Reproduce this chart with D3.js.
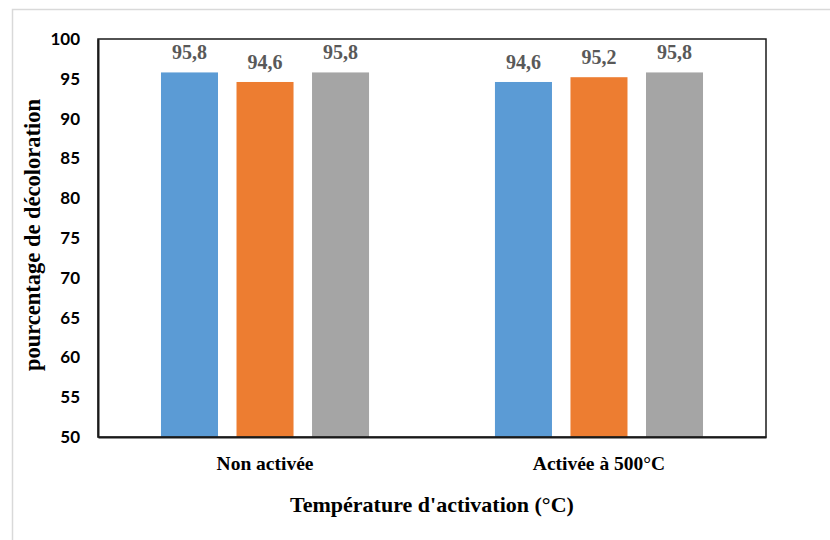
<!DOCTYPE html>
<html>
<head>
  <meta charset="utf-8">
  <title>Décoloration</title>
  <script src="https://d3js.org/d3.v7.min.js"></script>
  <style>
    body { margin: 0; background: #fff; }
  </style>
</head>
<body>
  <div id="chart"></div>

  <script>
    // Data
    const categories = ['Non activée', 'Activée à 500°C'];
    const series = ['s1', 's2', 's3'];
    const values = [
      [95.8, 94.6, 95.8],
      [94.6, 95.2, 95.8]
    ];
    const labels = [
      ['95,8', '94,6', '95,8'],
      ['94,6', '95,2', '95,8']
    ];
    const yTicks = [50, 55, 60, 65, 70, 75, 80, 85, 90, 95, 100];
    const colors = ['#5b9bd5', '#ed7d31', '#a5a5a5'];

    const width = 830;
    const height = 540;
    const margin = { top: 39, right: 64, bottom: 103, left: 98 };

    const svg = d3.select('#chart')
      .append('svg')
      .attr('width', width)
      .attr('height', height);

    // light outer frame
    svg.append('rect')
      .attr('x', 12.5).attr('y', 9.5)
      .attr('width', 830).attr('height', 540)
      .attr('fill', 'none')
      .attr('stroke', '#d9d9d9')
      .attr('stroke-width', 1.5);

    // Scales
    const x0 = d3.scaleBand()
      .domain(categories)
      .range([margin.left, width - margin.right])
      .paddingInner(0.377)
      .paddingOuter(0.1886);

    const x1 = d3.scaleBand()
      .domain(series)
      .range([0, x0.bandwidth()])
      .paddingInner(0.245)
      .paddingOuter(0);

    const y = d3.scaleLinear()
      .domain([50, 100])
      .range([height - margin.bottom, margin.top]);

    // Bars
    const groups = svg.selectAll('.group')
      .data(categories)
      .enter().append('g')
      .attr('class', 'group')
      .attr('transform', d => `translate(${x0(d)},0)`);

    groups.each(function(cat, ci) {
      const g = d3.select(this);
      g.selectAll('rect')
        .data(values[ci])
        .enter().append('rect')
        .attr('x', (d, i) => x1(series[i]))
        .attr('y', d => y(d))
        .attr('width', x1.bandwidth())
        .attr('height', d => y(50) - y(d))
        .attr('fill', (d, i) => colors[i]);

      g.selectAll('text.val')
        .data(values[ci])
        .enter().append('text')
        .attr('class', 'val')
        .attr('x', (d, i) => x1(series[i]) + x1.bandwidth() / 2)
        .attr('y', d => y(d) - 13)
        .attr('text-anchor', 'middle')
        .attr('font-family', '"Liberation Serif", "Times New Roman", serif')
        .attr('font-weight', 'bold')
        .attr('font-size', 20)
        .attr('fill', '#595959')
        .text((d, i) => labels[ci][i]);
    });

    // plot frame
    svg.append('rect')
      .attr('x', margin.left)
      .attr('y', margin.top)
      .attr('width', width - margin.left - margin.right)
      .attr('height', height - margin.top - margin.bottom)
      .attr('fill', 'none')
      .attr('stroke', '#1a1a1a')
      .attr('stroke-width', 1.5);

    // Y axis
    const yAxis = svg.append('g')
      .attr('transform', `translate(${margin.left},0)`)
      .call(d3.axisLeft(y).tickValues(yTicks).tickSize(0).tickPadding(18));
    yAxis.select('.domain')
      .attr('stroke', '#1a1a1a')
      .attr('stroke-width', 2);
    yAxis.selectAll('text')
      .attr('font-family', 'Lato, "Open Sans", sans-serif')
      .attr('font-weight', 'bold')
      .attr('font-size', 17)
      .attr('fill', '#000');

    // X axis
    const xAxis = svg.append('g')
      .attr('transform', `translate(0,${height - margin.bottom})`)
      .call(d3.axisBottom(x0).tickSize(0).tickPadding(19));
    xAxis.select('.domain')
      .attr('stroke', '#1a1a1a')
      .attr('stroke-width', 2);
    xAxis.selectAll('text')
      .attr('font-family', '"Liberation Serif", "Times New Roman", serif')
      .attr('font-weight', 'bold')
      .attr('font-size', 19.5)
      .attr('fill', '#000');

    // Axis titles
    svg.append('text')
      .attr('x', (margin.left + width - margin.right) / 2)
      .attr('y', 512)
      .attr('text-anchor', 'middle')
      .attr('font-family', '"Liberation Serif", "Times New Roman", serif')
      .attr('font-weight', 'bold')
      .attr('font-size', 22)
      .text("Température d'activation (°C)");

    svg.append('text')
      .attr('transform', `translate(40,${(margin.top + height - margin.bottom) / 2 - 3}) rotate(-90)`)
      .attr('text-anchor', 'middle')
      .attr('font-family', '"Liberation Serif", "Times New Roman", serif')
      .attr('font-weight', 'bold')
      .attr('font-size', 22.5)
      .text('pourcentage de décoloration');
  </script>
</body>
</html>
